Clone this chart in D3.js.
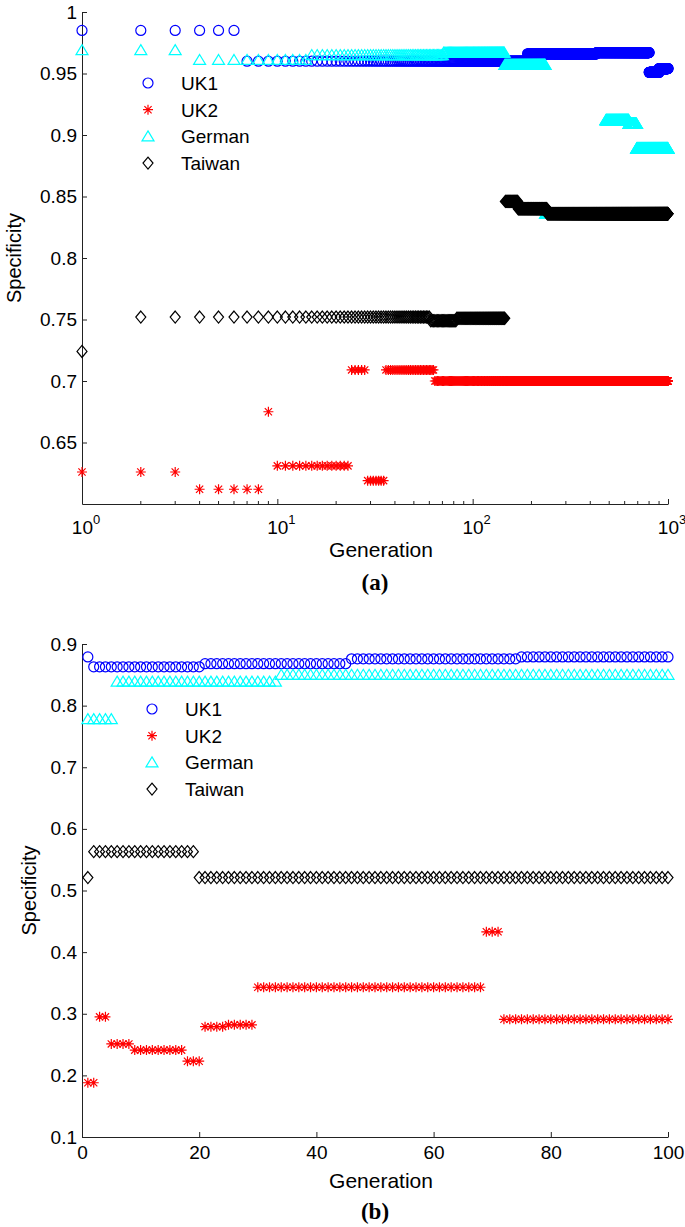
<!DOCTYPE html>
<html>
<head>
<meta charset="utf-8">
<script src="https://cdn.jsdelivr.net/npm/d3@7"></script>
<style>
  body { margin: 0; background: #fff; }
  text { font-family: "Liberation Sans", Arial, sans-serif; }
</style>
</head>
<body>
<div id="chart"></div>
<script>
// series names, in plot order
const seriesNames = ["UK1", "UK2", "German", "Taiwan"];

// panel (a): runs of [first generation, last generation, specificity]
const uk1A = [[1, 6, 0.985], [7, 190, 0.960], [191, 430, 0.966], [431, 800, 0.967], [801, 900, 0.951], [901, 1000, 0.954]];
const uk2A = [[1, 3, 0.626], [4, 8, 0.612], [9, 9, 0.675], [10, 23, 0.631], [24, 28, 0.709], [29, 35, 0.619], [36, 63, 0.709], [64, 1000, 0.700]];
const germanA = [[1, 3, 0.969], [4, 14, 0.961], [15, 70, 0.965], [71, 145, 0.967], [146, 235, 0.957], [236, 480, 0.836], [481, 630, 0.912], [631, 690, 0.909], [691, 1000, 0.889]];
const taiwanA = [[1, 1, 0.724], [2, 60, 0.752], [61, 82, 0.749], [83, 146, 0.751], [147, 170, 0.846], [171, 240, 0.840], [241, 1000, 0.836]];

// panel (b)
const uk1B = [[1, 1, 0.879], [2, 20, 0.863], [21, 45, 0.868], [46, 74, 0.876], [75, 100, 0.879]];
const uk2B = [[1, 2, 0.188], [3, 4, 0.295], [5, 8, 0.251], [9, 17, 0.241], [18, 20, 0.223], [21, 24, 0.279], [25, 29, 0.282], [30, 68, 0.343], [69, 71, 0.433], [72, 100, 0.291]];
const germanB = [[1, 5, 0.778], [6, 33, 0.839], [34, 100, 0.850]];
const taiwanB = [[1, 1, 0.521], [2, 19, 0.563], [20, 100, 0.521]];

// tick values
const yTicksA = [0.65, 0.7, 0.75, 0.8, 0.85, 0.9, 0.95, 1];
const xTicksA = [1, 10, 100, 1000];
const yTicksB = [0.1, 0.2, 0.3, 0.4, 0.5, 0.6, 0.7, 0.8, 0.9];
const xTicksB = [0, 20, 40, 60, 80, 100];

const markers = {
  UK1: { color: "#0000ff", path: "M5,0A5,5 0 1,1 -5,0A5,5 0 1,1 5,0Z" },
  UK2: { color: "#ff0000", path: "M-5,0H5M0,-5V5M-3.6,-3.6L3.6,3.6M-3.6,3.6L3.6,-3.6" },
  German: { color: "#00ffff", path: "M0,-5.5L6,4.5H-6Z" },
  Taiwan: { color: "#000000", path: "M0,-6L5,0L0,6L-5,0Z" }
};

const svg = d3.select("#chart")
  .append("svg")
  .attr("width", 685)
  .attr("height", 1227);

// one point per generation from the runs
function expand(runs) {
  return runs.flatMap(([a, b, v]) => d3.range(a, b + 1).map(g => ({ g, v })));
}

function drawPanel(p) {
  const g = svg.append("g");

  // y axis with inward ticks
  g.append("g")
    .attr("transform", `translate(${p.x.range()[0]},0)`)
    .call(d3.axisLeft(p.y).tickValues(p.yTicks).tickFormat(d => String(d))
      .tickSize(-5).tickSizeOuter(0).tickPadding(5))
    .call(a => a.selectAll("text").attr("font-size", 19).attr("fill", "#000"))
    .call(a => a.selectAll("path,line").attr("stroke", "#222"));

  // x axis
  const xa = g.append("g")
    .attr("transform", `translate(0,${p.y.range()[0]})`)
    .call(d3.axisBottom(p.x).tickValues(p.xTicks).tickSize(-5).tickSizeOuter(0)
      .tickFormat(p.log ? "" : d => String(d)).tickPadding(9))
    .call(a => a.selectAll("text").attr("font-size", 19).attr("fill", "#000"))
    .call(a => a.selectAll("path,line").attr("stroke", "#222"));

  if (p.log) {
    // minor ticks and 10^n labels
    const minor = [];
    [1, 10, 100].forEach(d => d3.range(2, 10).forEach(k => minor.push(d * k)));
    g.selectAll(".minor").data(minor).join("line")
      .attr("x1", d => p.x(d)).attr("x2", d => p.x(d))
      .attr("y1", p.y.range()[0]).attr("y2", p.y.range()[0] - 3)
      .attr("stroke", "#222");
    xa.selectAll(".tick text").remove();
    const lab = g.selectAll(".xlab").data(p.xTicks).join("text")
      .attr("x", d => p.x(d) + 4)
      .attr("y", p.y.range()[0] + 30)
      .attr("text-anchor", "middle")
      .attr("font-size", 19);
    lab.append("tspan").text("10");
    lab.append("tspan").attr("dy", -10).attr("font-size", 13).text(d => Math.round(Math.log10(d)));
  }

  // series
  seriesNames.forEach((name, i) => {
    g.append("g").selectAll("path").data(expand(p.data[i])).join("path")
      .attr("transform", d => `translate(${p.x(d.g)},${p.y(d.v)})`)
      .attr("d", markers[name].path)
      .attr("fill", "none")
      .attr("stroke", markers[name].color)
      .attr("stroke-width", 1.2);
  });

  // legend
  const leg = g.append("g").selectAll("g").data(seriesNames).join("g")
    .attr("transform", (d, i) => `translate(${p.legX},${p.legY + i * 26.7})`);
  leg.append("path")
    .attr("d", d => markers[d].path)
    .attr("fill", "none")
    .attr("stroke", d => markers[d].color)
    .attr("stroke-width", 1.2);
  leg.append("text")
    .attr("x", 33).attr("y", 7)
    .attr("font-size", 19)
    .text(d => d);

  // axis titles
  g.append("text")
    .attr("transform", `translate(${p.yLabelX},${d3.mean(p.y.range())}) rotate(-90)`)
    .attr("text-anchor", "middle")
    .attr("font-size", 20)
    .text("Specificity");
  g.append("text")
    .attr("x", d3.mean(p.x.range()) + 6).attr("y", p.xLabelY)
    .attr("text-anchor", "middle")
    .attr("font-size", 21)
    .text("Generation");
  g.append("text")
    .attr("x", d3.mean(p.x.range())).attr("y", p.capY)
    .attr("text-anchor", "middle")
    .attr("font-size", 23)
    .attr("font-weight", "bold")
    .style("font-family", "'Liberation Serif', 'Times New Roman', serif")
    .text(p.caption);
}

drawPanel({
  x: d3.scaleLog().domain([1, 1000]).range([82, 668]),
  y: d3.scaleLinear().domain([0.6, 1]).range([504, 12]),
  log: true,
  xTicks: xTicksA, yTicks: yTicksA,
  data: [uk1A, uk2A, germanA, taiwanA],
  legX: 148, legY: 83,
  yLabelX: 21, xLabelY: 557, capY: 590, caption: "(a)"
});

drawPanel({
  x: d3.scaleLinear().domain([0, 100]).range([82, 668]),
  y: d3.scaleLinear().domain([0.1, 0.9]).range([1137, 644]),
  log: false,
  xTicks: xTicksB, yTicks: yTicksB,
  data: [uk1B, uk2B, germanB, taiwanB],
  legX: 152, legY: 709,
  yLabelX: 36, xLabelY: 1188, capY: 1219, caption: "(b)"
});
</script>
</body>
</html>
